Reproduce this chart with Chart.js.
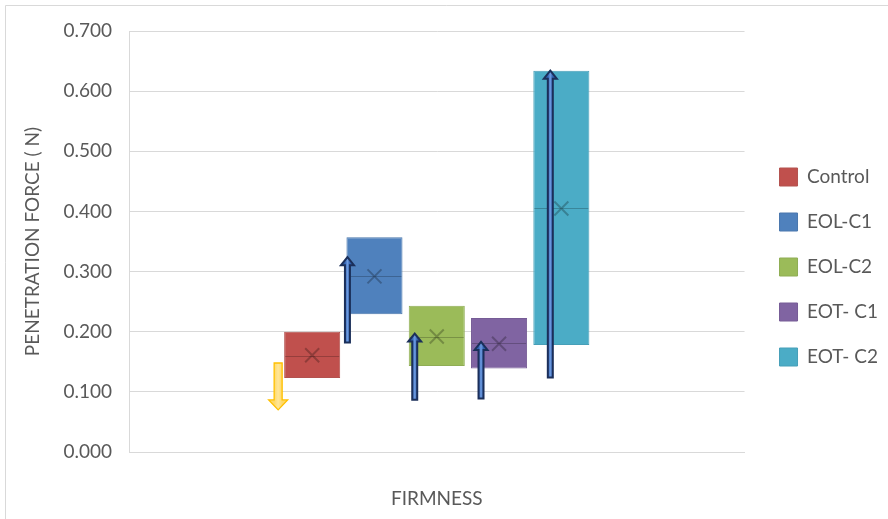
<!DOCTYPE html>
<html>
<head>
<meta charset="utf-8">
<script src="https://cdn.jsdelivr.net/npm/chart.js@4.4.1/dist/chart.umd.min.js"></script>
<style>
html,body{margin:0;padding:0;background:#ffffff;}
#wrap{position:relative;width:888px;height:519px;}
</style>
</head>
<body>
<div id="wrap"><canvas id="c" width="888" height="519"></canvas></div>
<script>
// ---- data ----
const categories = ['FIRMNESS'];
const seriesNames = ['Control', 'EOL-C1', 'EOL-C2', 'EOT- C1', 'EOT- C2'];
const q1Values = [0.123, 0.229, 0.143, 0.139, 0.178];
const q3Values = [0.200, 0.357, 0.243, 0.223, 0.634];
const medianValues = [0.160, 0.292, 0.192, 0.181, 0.406];
const meanValues = [0.161, 0.292, 0.192, 0.180, 0.405];
const yTicks = [0.0, 0.1, 0.2, 0.3, 0.4, 0.5, 0.6, 0.7];
// annotation arrows (value at tail, value at head), one per series
const arrowFrom = [0.148, 0.182, 0.087, 0.089, 0.124];
const arrowTo = [0.070, 0.324, 0.197, 0.183, 0.634];

// ---- styles ----
const fillColors = ['#C0504D', '#4F81BD', '#9BBB59', '#8064A2', '#4BACC6'];
const borderColors = ['#B3524F', '#4A77AD', '#8FAD54', '#765C96', '#479FB8'];
const FONT = 'Lato';
const TXT = '#595959';
const arrowStyle = [
  {dx: -6, shaft: 8, head: 19, headLen: 10, fill: '#FFD966', fill2: '#FFE699', stroke: '#FFC000', lw: 1.3},
  {dx: 1, shaft: 5, head: 13, headLen: 8, fill: '#2F5FAE', fill2: '#6E9BE0', stroke: '#1B2F5A', lw: 2},
  {dx: 6, shaft: 5, head: 13, headLen: 8, fill: '#2F5FAE', fill2: '#6E9BE0', stroke: '#1B2F5A', lw: 2},
  {dx: 10, shaft: 5, head: 13, headLen: 8, fill: '#2F5FAE', fill2: '#6E9BE0', stroke: '#1B2F5A', lw: 2},
  {dx: 17, shaft: 5, head: 13, headLen: 8, fill: '#2F5FAE', fill2: '#6E9BE0', stroke: '#1B2F5A', lw: 2}
];

const PAD = {top: 31, bottom: 16, left: 6};
const LEGEND_PAD = 26, LEGEND_BOX = 18, LEGEND_FONT = 19;
// measure legend text so the legend starts where the reference's does
const mctx = document.createElement('canvas').getContext('2d');
mctx.font = LEGEND_FONT + 'px ' + FONT;
const maxTextW = Math.max(...seriesNames.map(s => mctx.measureText(s).width));
const legendW = LEGEND_PAD + LEGEND_BOX + LEGEND_FONT / 2 + maxTextW + 10;
const padRight = Math.max(0, 888 - 754 - legendW);

const frame = {
  id: 'frame',
  beforeDraw(chart) {
    const ctx = chart.ctx;
    ctx.save();
    ctx.fillStyle = '#ffffff';
    ctx.fillRect(0, 0, chart.width, chart.height);
    ctx.strokeStyle = '#D9D9D9';
    ctx.lineWidth = 1;
    ctx.beginPath();
    ctx.moveTo(5.5, chart.height);
    ctx.lineTo(5.5, 5.5);
    ctx.lineTo(chart.width, 5.5);
    ctx.stroke();
    ctx.restore();
  }
};

function drawArrow(ctx, x, yTail, yTip, st) {
  const dir = yTip > yTail ? 1 : -1;
  const yBase = yTip - dir * st.headLen;
  const hs = st.shaft / 2, hh = st.head / 2;
  ctx.save();
  const g = ctx.createLinearGradient(x - hs, 0, x + hs, 0);
  g.addColorStop(0, st.fill);
  g.addColorStop(0.5, st.fill2);
  g.addColorStop(1, st.fill);
  ctx.beginPath();
  ctx.moveTo(x - hs, yTail);
  ctx.lineTo(x - hs, yBase);
  ctx.lineTo(x - hh, yBase);
  ctx.lineTo(x, yTip);
  ctx.lineTo(x + hh, yBase);
  ctx.lineTo(x + hs, yBase);
  ctx.lineTo(x + hs, yTail);
  ctx.closePath();
  ctx.fillStyle = g;
  ctx.fill();
  ctx.lineWidth = st.lw;
  ctx.strokeStyle = st.stroke;
  ctx.lineJoin = 'miter';
  ctx.stroke();
  ctx.restore();
}

const boxExtras = {
  id: 'boxExtras',
  afterDatasetsDraw(chart) {
    const ctx = chart.ctx;
    const y = chart.scales.y;
    chart.data.datasets.forEach((ds, i) => {
      const meta = chart.getDatasetMeta(i);
      meta.data.forEach((bar) => {
        const left = bar.x - bar.width / 2, right = bar.x + bar.width / 2;
        const ym = Math.round(y.getPixelForValue(medianValues[i])) + 0.5;
        ctx.save();
        ctx.strokeStyle = 'rgba(0,0,0,0.22)';
        ctx.lineWidth = 1;
        ctx.beginPath();
        ctx.moveTo(left + 1, ym);
        ctx.lineTo(right - 1, ym);
        ctx.stroke();
        const yx = y.getPixelForValue(meanValues[i]);
        const s = 7;
        ctx.strokeStyle = 'rgba(0,0,0,0.25)';
        ctx.lineWidth = 2;
        ctx.beginPath();
        ctx.moveTo(bar.x - s, yx - s);
        ctx.lineTo(bar.x + s, yx + s);
        ctx.moveTo(bar.x + s, yx - s);
        ctx.lineTo(bar.x - s, yx + s);
        ctx.stroke();
        ctx.restore();
      });
    });
    chart.data.datasets.forEach((ds, i) => {
      const bar = chart.getDatasetMeta(i).data[0];
      const st = arrowStyle[i];
      const x = bar.x - bar.width / 2 + st.dx;
      drawArrow(ctx, x, y.getPixelForValue(arrowFrom[i]), y.getPixelForValue(arrowTo[i]), st);
    });
  }
};

new Chart(document.getElementById('c'), {
  type: 'bar',
  data: {
    labels: categories,
    datasets: seriesNames.map((name, i) => ({
      label: name,
      data: [[q1Values[i], q3Values[i]]],
      backgroundColor: fillColors[i],
      borderColor: borderColors[i],
      borderWidth: 1,
      borderSkipped: false,
      categoryPercentage: 0.506,
      barPercentage: 0.9
    }))
  },
  options: {
    responsive: false,
    animation: false,
    devicePixelRatio: 1,
    events: [],
    layout: {padding: {top: PAD.top, bottom: PAD.bottom, left: PAD.left, right: padRight}},
    scales: {
      x: {
        grid: {display: false, drawTicks: false},
        border: {display: true, color: '#D9D9D9'},
        ticks: {display: false},
        title: {display: true, text: categories[0], color: TXT, font: {family: FONT, size: 19}, padding: {top: 0, bottom: -7}},
        afterFit: s => { s.height = 519 - PAD.bottom - 452; }
      },
      y: {
        min: 0, max: 0.7,
        afterBuildTicks: s => { s.ticks = yTicks.map(v => ({value: v})); },
        ticks: {color: TXT, font: {family: FONT, size: 19}, padding: 17, callback: v => Number(v).toFixed(3)},
        grid: {color: '#D9D9D9', lineWidth: 1, drawTicks: false},
        border: {display: true, color: '#D9D9D9'},
        title: {display: true, text: 'PENETRATION FORCE ( N)', color: TXT, font: {family: FONT, size: 19}, padding: {top: 15, bottom: 0}},
        afterFit: s => { s.width = 129 - PAD.left; }
      },
      gap: {
        position: 'right',
        display: true,
        grid: {display: false, drawTicks: false},
        border: {display: false},
        ticks: {display: false},
        afterFit: s => { s.width = 9; }
      }
    },
    plugins: {
      tooltip: {enabled: false},
      legend: {
        position: 'right',
        labels: {boxWidth: LEGEND_BOX, boxHeight: LEGEND_BOX, padding: LEGEND_PAD, color: TXT, font: {family: FONT, size: LEGEND_FONT}}
      }
    }
  },
  plugins: [frame, boxExtras]
});
</script>
</body>
</html>
